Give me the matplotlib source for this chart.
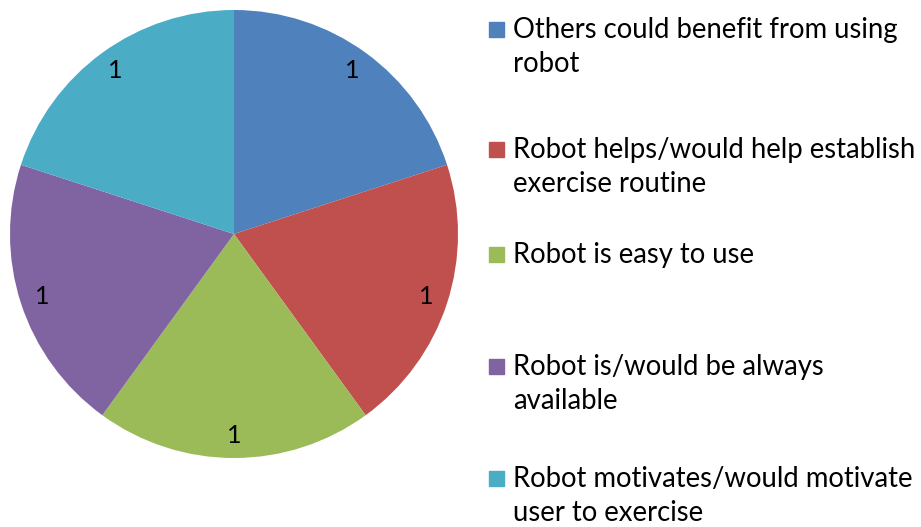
import matplotlib
matplotlib.use("Agg")
import matplotlib.pyplot as plt
from matplotlib.patches import Rectangle

categories = [
    "Others could benefit from using\nrobot",
    "Robot helps/would help establish\nexercise routine",
    "Robot is easy to use",
    "Robot is/would be always\navailable",
    "Robot motivates/would motivate\nuser to exercise",
]
values = [1, 1, 1, 1, 1]
colors = ["#4F81BD", "#C0504D", "#9BBB59", "#8064A2", "#4BACC6"]

plt.rcParams['font.family'] = ['Lato', 'DejaVu Sans']

W, H = 921, 527
fig = plt.figure(figsize=(W / 100, H / 100), dpi=100)
ax = fig.add_axes([10 / W, 69 / H, 448 / W, 448 / H])
wedges, texts, autotexts = ax.pie(
    values, colors=colors, startangle=90, counterclock=False,
    autopct=lambda p: f"{p * sum(values) / 100:.0f}", pctdistance=0.9,
    textprops=dict(fontsize=18, color="black"),
    wedgeprops=dict(linewidth=0))
ax.set_aspect("equal")
ax.set_xlim(-1, 1)
ax.set_ylim(-1, 1)
ax.axis("off")

fs = 19.8
baselines = [38, 158, 263, 375, 487]
line_gap = 34
for lab, col, yb in zip(categories, colors, baselines):
    fig.patches.append(Rectangle((489 / W, 1 - (yb - 1) / H), 15 / W, 15 / H,
                                 transform=fig.transFigure, color=col))
    for i, line in enumerate(lab.split("\n")):
        fig.text(513 / W, 1 - (yb + i * line_gap) / H, line, fontsize=fs,
                 va="baseline", ha="left", color="black")

fig.savefig("out.png", dpi=100)
